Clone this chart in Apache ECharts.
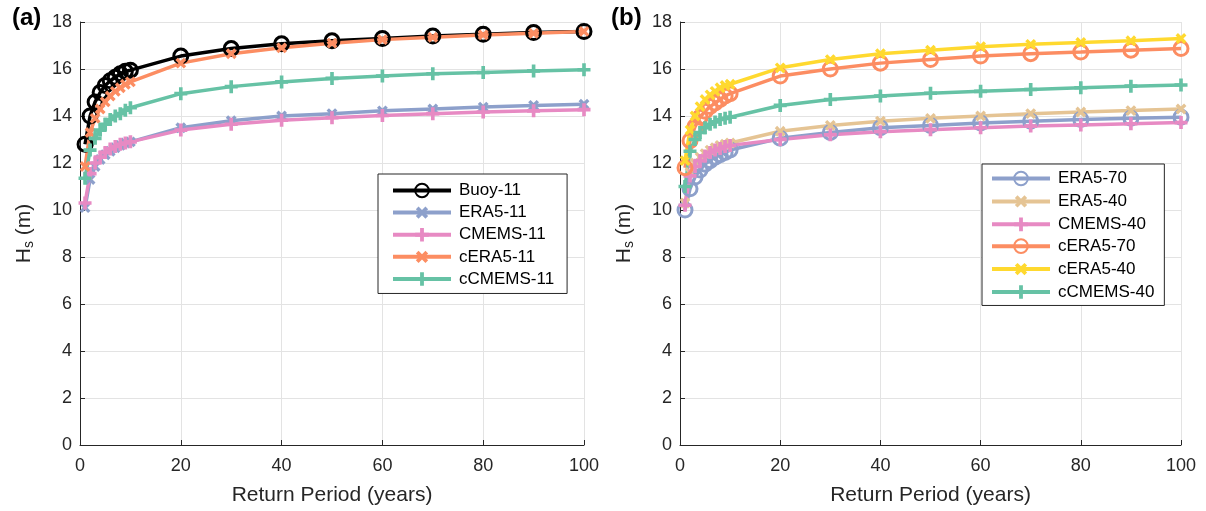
<!DOCTYPE html>
<html>
<head>
<meta charset="utf-8">
<script src="https://cdn.jsdelivr.net/npm/echarts@6/dist/echarts.min.js"></script>
<style>html,body{margin:0;padding:0;background:#fff}#c{width:1206px;height:511px}</style>
</head>
<body>
<div id="c"></div>
<script>
const periods = [1,2,3,4,5,6,7,8,9,10,20,30,40,50,60,70,80,90,100];
const xTicks = [0,20,40,60,80,100];
const yTicks = [0,2,4,6,8,10,12,14,16,18];

// Panel (a)
const buoy11   = [12.8,14.0,14.6,15.0,15.3,15.5,15.65,15.8,15.9,15.95,16.55,16.87,17.07,17.2,17.3,17.4,17.48,17.55,17.6];
const era5_11  = [10.1,11.3,11.85,12.15,12.35,12.5,12.65,12.75,12.85,12.9,13.5,13.8,14.0,14.1,14.22,14.3,14.38,14.45,14.5];
const cmems11  = [10.3,11.55,12.0,12.25,12.45,12.6,12.7,12.8,12.85,12.9,13.4,13.65,13.82,13.93,14.02,14.1,14.17,14.22,14.27];
const cera5_11 = [11.85,13.3,13.9,14.3,14.6,14.85,15.05,15.2,15.35,15.45,16.25,16.65,16.9,17.1,17.25,17.35,17.45,17.52,17.6];
const ccmems11 = [11.35,12.55,13.05,13.4,13.65,13.85,14.0,14.1,14.25,14.35,14.95,15.25,15.45,15.6,15.7,15.8,15.85,15.92,15.97];

// Panel (b)
const era5_70  = [10.0,10.9,11.4,11.7,11.95,12.1,12.25,12.35,12.45,12.55,13.05,13.3,13.5,13.6,13.7,13.78,13.85,13.9,13.95];
const era5_40  = [10.3,11.6,12.0,12.25,12.4,12.55,12.65,12.75,12.8,12.85,13.35,13.6,13.78,13.9,14.0,14.1,14.17,14.23,14.3];
const cmems40  = [10.2,11.45,11.85,12.1,12.3,12.45,12.55,12.62,12.7,12.75,13.0,13.2,13.33,13.42,13.5,13.57,13.62,13.67,13.72];
const cera5_70 = [11.8,12.95,13.55,13.95,14.2,14.4,14.55,14.7,14.85,14.95,15.7,16.0,16.25,16.4,16.55,16.65,16.72,16.8,16.87];
const cera5_40 = [12.1,13.4,14.0,14.4,14.7,14.9,15.05,15.2,15.3,15.35,16.05,16.4,16.65,16.8,16.95,17.05,17.13,17.2,17.3];
const ccmems40 = [11.0,12.5,13.0,13.3,13.5,13.65,13.75,13.85,13.9,13.95,14.45,14.7,14.85,14.97,15.05,15.13,15.2,15.27,15.32];

const FONT = "'Liberation Sans', Arial, Helvetica, sans-serif";
const TXT = '#262626';
const PLUS = 'path://M3.6,0H6.4V3.6H10V6.4H6.4V10H3.6V6.4H0V3.6H3.6Z';

function pairs(ys){ return periods.map((p,i)=>[p, ys[i]]); }

function mk(name, ys, color, marker, grid){
  const s = {
    name, type:'line', data:pairs(ys), xAxisIndex:grid, yAxisIndex:grid,
    lineStyle:{color, width:3.5}, color,
    symbolKeepAspect:true, animation:false, z: 2
  };
  if (marker === 'o') {
    s.symbol = 'circle'; s.symbolSize = 14;
    s.itemStyle = {color:'rgba(0,0,0,0)', borderColor:color, borderWidth:3};
  } else if (marker === 'x') {
    s.symbol = PLUS; s.symbolSize = 12; s.symbolRotate = 45;
    s.itemStyle = {color};
  } else {
    s.symbol = PLUS; s.symbolSize = 13;
    s.itemStyle = {color};
  }
  return s;
}

function xAx(g){
  return {
    type:'value', gridIndex:g, min:0, max:100, interval:20,
    name:'Return Period (years)', nameLocation:'middle', nameGap:40,
    nameTextStyle:{fontSize:21, color:TXT, fontFamily:FONT},
    axisLine:{show:true, lineStyle:{color:TXT, width:1}},
    axisTick:{show:true, inside:true, length:5, lineStyle:{color:TXT}},
    axisLabel:{fontSize:18, color:TXT, fontFamily:FONT, margin:12},
    splitLine:{show:true, lineStyle:{color:'#e3e3e3', width:1}}
  };
}
function yAx(g){
  return {
    type:'value', gridIndex:g, min:0, max:18, interval:2,
    name:'{h|H}{s|s}{h| (m)}', nameLocation:'middle', nameGap:44, nameRotate:90,
    nameTextStyle:{color:TXT, fontFamily:FONT, rich:{
      h:{fontSize:21, color:TXT, fontFamily:FONT},
      s:{fontSize:14, color:TXT, fontFamily:FONT, verticalAlign:'bottom', padding:[9,0,0,0]}
    }},
    axisLine:{show:true, lineStyle:{color:TXT, width:1}},
    axisTick:{show:true, inside:true, length:5, lineStyle:{color:TXT}},
    axisLabel:{fontSize:18, color:TXT, fontFamily:FONT, margin:8},
    splitLine:{show:true, lineStyle:{color:'#e3e3e3', width:1}}
  };
}
function legend(names, left, top, padding, gap){
  return {
    data:names, left, top, orient:'vertical',
    itemWidth:58, itemHeight:17, itemGap:gap,
    backgroundColor:'#fff', borderColor:'#262626', borderWidth:1,
    padding,
    lineStyle:{width:4},
    textStyle:{fontSize:17, color:'#000', fontFamily:FONT, padding:[0,0,0,3]}
  };
}

const series = [
  mk('Buoy-11', buoy11, '#000000', 'o', 0),
  mk('ERA5-11', era5_11, '#8da0cb', 'x', 0),
  mk('CMEMS-11', cmems11, '#e78ac3', '+', 0),
  mk('cERA5-11', cera5_11, '#fc8d62', 'x', 0),
  mk('cCMEMS-11', ccmems11, '#66c2a5', '+', 0),
  mk('ERA5-70', era5_70, '#8da0cb', 'o', 1),
  mk('ERA5-40', era5_40, '#e5c494', 'x', 1),
  mk('CMEMS-40', cmems40, '#e78ac3', '+', 1),
  mk('cERA5-70', cera5_70, '#fc8d62', 'o', 1),
  mk('cERA5-40', cera5_40, '#ffd92f', 'x', 1),
  mk('cCMEMS-40', ccmems40, '#66c2a5', '+', 1)
];

const chart = echarts.init(document.getElementById('c'), null, {renderer:'canvas'});
chart.setOption({
  animation:false,
  backgroundColor:'#fff',
  title:[
    {text:'(a)', left:7, top:1, textStyle:{fontSize:24, fontWeight:'bold', color:'#000', fontFamily:FONT}},
    {text:'(b)', left:606, top:1, textStyle:{fontSize:24, fontWeight:'bold', color:'#000', fontFamily:FONT}}
  ],
  grid:[
    {left:80, right:622, top:22, bottom:65},
    {left:680, right:25, top:22, bottom:65}
  ],
  xAxis:[xAx(0), xAx(1)],
  yAxis:[yAx(0), yAx(1)],
  legend:[
    legend(['Buoy-11','ERA5-11','CMEMS-11','cERA5-11','cCMEMS-11'], 378, 174, [8,13,6,13], 4),
    legend(['ERA5-70','ERA5-40','CMEMS-40','cERA5-70','cERA5-40','cCMEMS-40'], 982, 164, [6,10,5,8], 4.8)
  ],
  series
});
</script>
</body>
</html>
